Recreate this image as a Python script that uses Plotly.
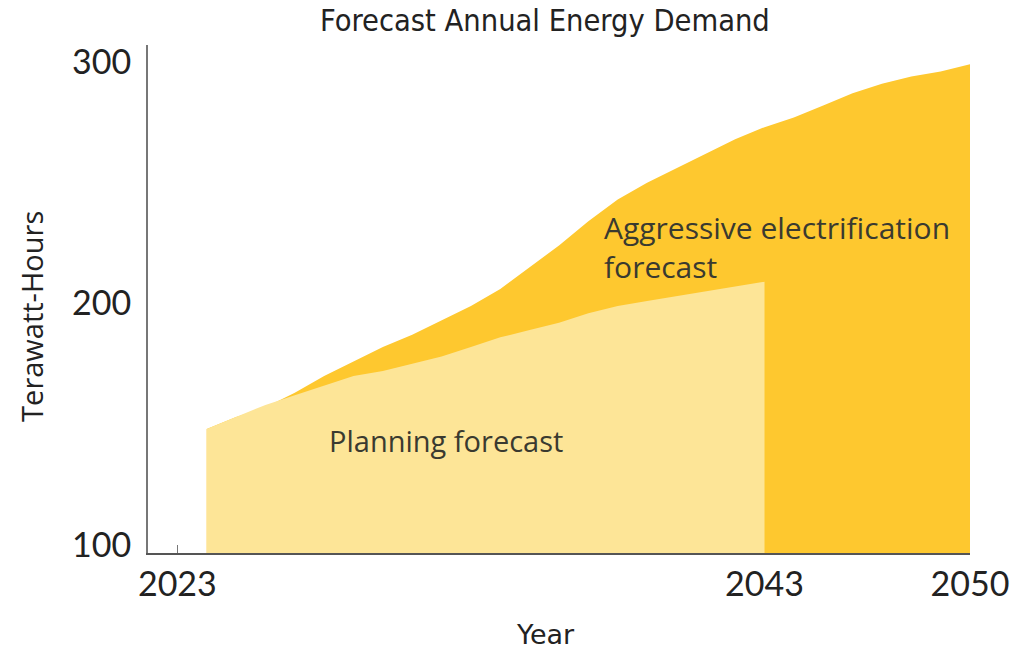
import plotly.graph_objects as go

# Annual demand forecasts, terawatt-hours
aggressive_years = list(range(2024, 2051))
aggressive_twh = [148, 153, 157, 163, 170, 176, 182, 187, 193, 199,
                  206, 215, 224, 234, 243, 250, 256, 262, 268, 273,
                  277, 282, 287, 291, 294, 296, 299]

planning_years = list(range(2024, 2044))
planning_twh = [148, 153, 158, 162, 166, 170, 172, 175, 178, 182,
                186, 189, 192, 196, 199, 201, 203, 205, 207, 209]

x_ticks = [2023, 2043, 2050]
y_ticks = [100, 200, 300]

DARK = "#FEC82F"
LIGHT = "#FDE597"
TEXT = "#3a3a30"
AXIS_TEXT = "#222"

fig = go.Figure()

fig.add_trace(go.Scatter(
    x=aggressive_years, y=aggressive_twh, mode="lines",
    line=dict(width=0, color=DARK), fill="tozeroy", fillcolor=DARK,
    name="Aggressive electrification forecast", hoverinfo="x+y",
))
fig.add_trace(go.Scatter(
    x=planning_years, y=planning_twh, mode="lines",
    line=dict(width=0, color=LIGHT), fill="tozeroy", fillcolor=LIGHT,
    name="Planning forecast", hoverinfo="x+y",
))

# In-chart series labels
fig.add_annotation(x=2037.45, y=206, xref="x", yref="y",
                   text="Aggressive electrification<br>forecast",
                   showarrow=False, xanchor="left", yanchor="bottom", align="left",
                   font=dict(family="Open Sans", size=30, color=TEXT))
fig.add_annotation(x=2028.1, y=134.5, xref="x", yref="y",
                   text="Planning forecast",
                   showarrow=False, xanchor="left", yanchor="bottom", align="left",
                   font=dict(family="Open Sans", size=29, color=TEXT))

# Axis titles
fig.add_annotation(x=-0.141, y=0.465, xref="paper", yref="paper",
                   text="Terawatt-Hours", textangle=-90, showarrow=False,
                   xanchor="center", yanchor="middle",
                   font=dict(family="Open Sans", size=29, color=AXIS_TEXT))
fig.add_annotation(x=0.484, y=-0.161, xref="paper", yref="paper",
                   text="Year", showarrow=False,
                   xanchor="center", yanchor="middle",
                   font=dict(family="DejaVu Sans", size=27, color=AXIS_TEXT))

fig.update_layout(
    width=1032, height=652,
    margin=dict(l=148, r=62, t=45, b=99),
    paper_bgcolor="white", plot_bgcolor="white",
    showlegend=False,
    title=dict(text="Forecast Annual Energy Demand", x=0.528, xanchor="center",
               y=0.969, yanchor="middle",
               font=dict(family="DejaVu Sans Condensed", size=30.5, color=AXIS_TEXT)),
    xaxis=dict(
        range=[2022, 2050], tickvals=x_ticks, ticktext=[str(v) for v in x_ticks],
        showgrid=False, zeroline=False, showline=True, linecolor="#555", linewidth=2,
        ticks="inside", ticklen=8, tickcolor="#777", tickwidth=1,
        layer="below traces",
        tickfont=dict(family="Lato", size=34, color=AXIS_TEXT),
    ),
    yaxis=dict(
        range=[96.7, 307], tickvals=y_ticks, ticktext=[str(v) for v in y_ticks],
        showgrid=False, zeroline=False, showline=True, linecolor="#777", linewidth=2,
        ticks="", ticklabelstandoff=8,
        tickfont=dict(family="Lato", size=34, color=AXIS_TEXT),
    ),
)

fig.write_html("out.html")
